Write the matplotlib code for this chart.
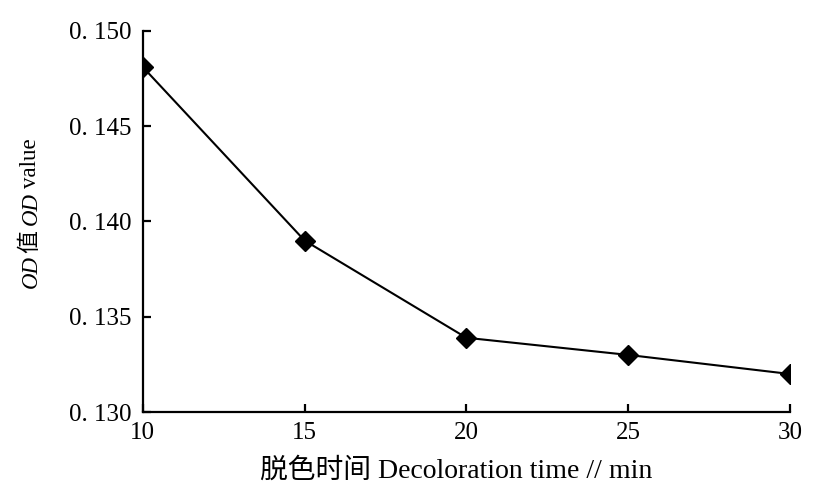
import matplotlib
matplotlib.use("Agg")
import matplotlib.pyplot as plt
from matplotlib.ticker import FixedLocator, FuncFormatter

# data
decoloration_time = [10, 15, 20, 25, 30]
od_value = [0.1481, 0.1390, 0.1339, 0.1330, 0.1320]
x_ticks = [10, 15, 20, 25, 30]
y_ticks = [0.130, 0.135, 0.140, 0.145, 0.150]
ylabel_parts = [("OD", "italic"), ("值", "normal"), ("OD", "italic"), ("value", "normal")]

plt.rcParams['font.family'] = ['Liberation Serif', 'Noto Sans CJK SC']

fig = plt.figure(figsize=(8.21, 4.90), dpi=100)
ax = fig.add_axes([0.174, 0.159, 0.788, 0.778])

ax.plot(decoloration_time, od_value, color='black', linewidth=1.5,
        marker='D', markersize=10, markerfacecolor='black', markeredgecolor='black')

ax.set_xlim(10, 30)
ax.set_ylim(0.130, 0.150)
ax.xaxis.set_major_locator(FixedLocator(x_ticks))
ax.yaxis.set_major_locator(FixedLocator(y_ticks))
ax.yaxis.set_major_formatter(FuncFormatter(lambda v, p: f"{v:.3f}".replace(".", ". ")))

for side in ['top', 'right']:
    ax.spines[side].set_visible(False)
for side in ['left', 'bottom']:
    ax.spines[side].set_linewidth(1.6)

ax.tick_params(direction='in', length=6, width=1.6, labelsize=18)
ax.tick_params(axis='y', pad=8)
ax.tick_params(axis='x', pad=7)

ax.set_xlabel("脱色时间 Decoloration time // min", fontsize=20)
ax.xaxis.set_label_coords(0.485, -0.12)

# y label: pieces placed one after another along the rotated direction so OD can be italic
renderer = fig.canvas.get_renderer()
gaps = [2, 5, 4, 0]
texts = []
for s, st in ylabel_parts:
    t = fig.text(0, 0, s, style=st, rotation=90, fontsize=16.5,
                 ha='left', va='center', rotation_mode='anchor')
    texts.append(t)
heights = [t.get_window_extent(renderer).height for t in texts]
total = sum(heights) + sum(gaps)
fig_w = fig.get_figwidth() * fig.dpi
fig_h = fig.get_figheight() * fig.dpi
y_center = 213
x_pix = 31
y_pix = fig_h - y_center - total / 2
for t, h, g in zip(texts, heights, gaps):
    t.set_position((x_pix / fig_w, y_pix / fig_h))
    y_pix += h + g

fig.savefig("out.png", dpi=100)
